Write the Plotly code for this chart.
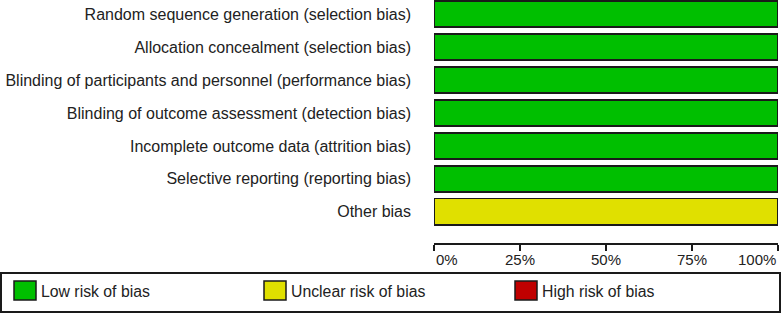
import plotly.graph_objects as go

categories = [
    "Random sequence generation (selection bias)",
    "Allocation concealment (selection bias)",
    "Blinding of participants and personnel (performance bias)",
    "Blinding of outcome assessment (detection bias)",
    "Incomplete outcome data (attrition bias)",
    "Selective reporting (reporting bias)",
    "Other bias",
]
low_risk = [100, 100, 100, 100, 100, 100, 0]
unclear_risk = [0, 0, 0, 0, 0, 0, 100]
high_risk = [0, 0, 0, 0, 0, 0, 0]

series_names = ["Low risk of bias", "Unclear risk of bias", "High risk of bias"]
tick_values = [0, 25, 50, 75, 100]
tick_labels = ["0%", "25%", "50%", "75%", "100%"]

COLORS = ["#00BF00", "#E0E000", "#C00000"]
EDGE = "#1a1a1a"
TEXT = "#222222"
FONT = "Liberation Sans, Arial, sans-serif"

W, H = 782, 315
ML, MR, MT, MB = 434, 4, 0, 72
PW = W - ML - MR
PH = H - MT - MB


def px_x(p):
    return (p - ML) / PW


def px_y(p):
    return (MT + PH - p) / PH


fig = go.Figure()
for name, vals, col in zip(series_names, [low_risk, unclear_risk, high_risk], COLORS):
    fig.add_trace(go.Bar(
        y=categories, x=vals, orientation="h", name=name,
        marker=dict(color=col, line=dict(color=EDGE, width=1.6)),
        width=0.8, showlegend=False, hoverinfo="skip",
    ))

shapes = []
annotations = []

# tick labels with RevMan-style alignment
for v, t in zip(tick_values, tick_labels):
    anchor = "left" if v == tick_values[0] else ("right" if v == tick_values[-1] else "center")
    annotations.append(dict(
        x=v, xref="x", y=px_y(259), yref="paper", text=t, showarrow=False,
        xanchor=anchor, yanchor="middle", font=dict(size=15, color=TEXT, family=FONT),
    ))

# legend box
shapes.append(dict(type="rect", xref="paper", yref="paper",
                   x0=px_x(1), x1=px_x(780), y0=px_y(273), y1=px_y(312),
                   line=dict(color=EDGE, width=2), fillcolor="rgba(0,0,0,0)"))
legend_x = [14, 264, 515]
for name, col, lx in zip(series_names, COLORS, legend_x):
    shapes.append(dict(type="rect", xref="paper", yref="paper",
                       x0=px_x(lx), x1=px_x(lx + 22), y0=px_y(281), y1=px_y(300),
                       line=dict(color=EDGE, width=1.5), fillcolor=col))
    annotations.append(dict(
        x=px_x(lx + 25), xref="paper", y=px_y(291), yref="paper", text=name,
        showarrow=False, xanchor="left", yanchor="middle",
        font=dict(size=15.8, color=TEXT, family=FONT),
    ))

n = len(categories)
fig.update_layout(
    width=W, height=H,
    margin=dict(l=ML, r=MR, t=MT, b=MB, pad=0),
    barmode="stack",
    plot_bgcolor="white", paper_bgcolor="white",
    font=dict(family=FONT, size=16, color=TEXT),
    bargap=0.2,
    xaxis=dict(range=[0, 100], showgrid=False, zeroline=False, showline=True,
               linecolor=EDGE, linewidth=2, ticks="outside", ticklen=6, tickwidth=2,
               tickcolor=EDGE, tickvals=tick_values, showticklabels=False),
    xaxis2=dict(range=[0, 100], overlaying="x", side="bottom", anchor="y",
                showgrid=False, zeroline=False, showline=False, ticks="inside",
                ticklen=6, tickwidth=2, tickcolor=EDGE, tickvals=tick_values,
                showticklabels=False),
    yaxis=dict(range=[n - 1 + 0.945, -0.427], showgrid=False, zeroline=False,
               showline=False, ticks="", ticklabelstandoff=22,
               tickfont=dict(size=16, color=TEXT, family=FONT)),
    shapes=shapes,
    annotations=annotations,
)

fig.write_html(
    "out.html",
    config={"displayModeBar": False},
    post_script="document.body.style.margin='0';document.body.style.padding='0';",
)
